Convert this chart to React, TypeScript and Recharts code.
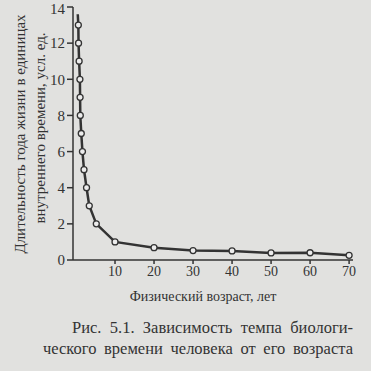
import { LineChart, Line, XAxis, YAxis } from 'recharts';

const ages = [0.45, 0.6, 0.65, 0.8, 1.0, 1.05, 1.1, 1.35, 1.65, 2.05, 2.7, 3.4, 5.2, 10, 20, 30, 40, 50, 60, 70];
const yearLength = [13.6, 13, 12, 11, 10, 9, 8, 7, 6, 5, 4, 3, 2, 1.0, 0.68, 0.52, 0.5, 0.39, 0.4, 0.26];
const xTicks = [10, 20, 30, 40, 50, 60, 70];
const yTicks = [0, 2, 4, 6, 8, 10, 12, 14];

const data = ages.map((age, i) => ({ age, value: yearLength[i] }));

const INK = '#333333';
const FONT = "'Times New Roman', Times, Tinos, 'Liberation Serif', 'DejaVu Serif', serif";

const renderDot = (props: any) => {
  const { cx, cy, index } = props;
  if (index === 0) return <g key={`d-${index}`} />;
  return <circle key={`d-${index}`} cx={cx} cy={cy} r={3} fill="#ececec" stroke={INK} strokeWidth={1.3} />;
};

const YLabel = () => (
  <g fill={INK} style={{ fontFamily: FONT }} fontSize={15}>
    <text x={25} y={134} textAnchor="middle" transform="rotate(-90 25 134)">
      Длительность года жизни в единицах
    </text>
    <text x={45} y={128} textAnchor="middle" transform="rotate(-90 45 128)">
      внутреннего времени, усл. ед.
    </text>
  </g>
);

export default function App() {
  return (
    <div style={{ position: 'absolute', left: 0, top: 0, width: 371, height: 371, background: '#e1e1df', fontFamily: FONT, color: INK }}>
      <LineChart width={371} height={305} data={data} margin={{ top: 7, right: 18, bottom: 0, left: 0 }} style={{ fontFamily: FONT }}>
        <XAxis
          dataKey="age"
          type="number"
          domain={[-0.77, 71]}
          ticks={xTicks}
          allowDataOverflow
          stroke={INK}
          strokeWidth={1.5}
          tickSize={4}
          tick={{ fill: INK, fontSize: 14, style: { fontFamily: FONT } }}
          height={45}
          label={{ value: 'Физический возраст, лет', position: 'insideBottom', offset: 4, fill: INK, fontSize: 14, style: { fontFamily: FONT }, dx: -10 }}
        />
        <YAxis
          type="number"
          domain={[0, 14]}
          ticks={yTicks}
          stroke={INK}
          strokeWidth={1.5}
          tickSize={6}
          tickMargin={2}
          width={73}
          tick={{ fill: INK, fontSize: 15, style: { fontFamily: FONT } }}
          label={{ content: () => <YLabel /> }}
        />
        <Line
          dataKey="value"
          type="linear"
          stroke={INK}
          strokeWidth={2.5}
          dot={renderDot}
          isAnimationActive={false}
        />
      </LineChart>
      <div style={{ position: 'absolute', left: 43, top: 317, width: 310, fontSize: 16.5, lineHeight: '21px', textAlign: 'justify', textAlignLast: 'justify', textIndent: 29 }}>
        Рис. 5.1. Зависимость темпа биологи-ческого времени человека от его возраста
      </div>
    </div>
  );
}
